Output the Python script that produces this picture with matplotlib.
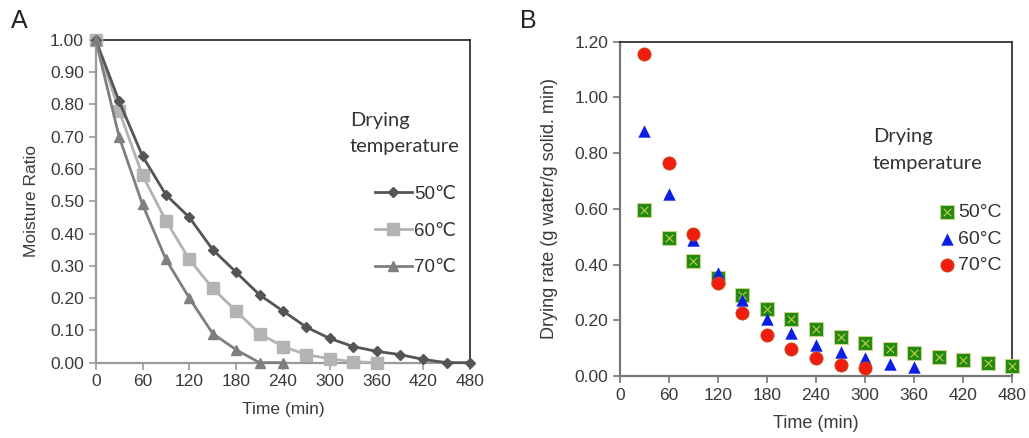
import numpy as np
import matplotlib
matplotlib.use("Agg")
import matplotlib.pyplot as plt
from matplotlib.legend_handler import HandlerTuple

plt.rcParams['font.family'] = ['Liberation Sans', 'DejaVu Sans']

# Panel A: moisture ratio vs time
time_a = [0, 30, 60, 90, 120, 150, 180, 210, 240, 270, 300, 330, 360, 390, 420, 450, 480]
mr_50 = [1.00, 0.81, 0.64, 0.52, 0.45, 0.35, 0.28, 0.21, 0.16, 0.11, 0.075, 0.05, 0.035, 0.025, 0.01, 0.00, 0.00]
mr_60 = [1.00, 0.78, 0.58, 0.44, 0.32, 0.23, 0.16, 0.09, 0.05, 0.025, 0.012, 0.003, 0.00]
mr_70 = [1.00, 0.70, 0.49, 0.32, 0.20, 0.09, 0.04, 0.00, 0.00]

# Panel B: drying rate vs time
time_b = [30, 60, 90, 120, 150, 180, 210, 240, 270, 300, 330, 360, 390, 420, 450, 480]
dr_50 = [0.595, 0.496, 0.412, 0.352, 0.29, 0.241, 0.203, 0.167, 0.141, 0.12, 0.097, 0.084, 0.067, 0.057, 0.048, 0.037]
dr_60 = [0.879, 0.655, 0.487, 0.368, 0.272, 0.203, 0.153, 0.113, 0.085, 0.063, 0.043, 0.033]
dr_70 = [1.157, 0.766, 0.509, 0.335, 0.225, 0.147, 0.098, 0.066, 0.041, 0.027]

xticks = np.arange(0, 481, 60)

fig = plt.figure(figsize=(10.29, 4.38), dpi=100)
ax1 = fig.add_axes([0.093, 0.172, 0.364, 0.737])
ax2 = fig.add_axes([0.6025, 0.1416, 0.381, 0.7632])

tick_col = '#3a3a3a'
spine_gray = '#9a9a9a'

# ---- panel A
l50, = ax1.plot(time_a, mr_50, color='#555555', lw=2.0, marker='D', ms=5.5, label='50\u2103', clip_on=False, zorder=4)
l60, = ax1.plot(time_a[:len(mr_60)], mr_60, color='#b3b3b3', lw=2.0, marker='s', ms=8, label='60\u2103', clip_on=False, zorder=3)
l70, = ax1.plot(time_a[:len(mr_70)], mr_70, color='#7f7f7f', lw=2.0, marker='^', ms=7.5, label='70\u2103', clip_on=False, zorder=5)

ax1.set_xlim(0, 480)
ax1.set_ylim(0, 1.0)
ax1.set_xticks(xticks)
ax1.set_yticks(np.arange(0, 1.01, 0.1))
ax1.set_yticklabels([f'{v:.2f}' for v in np.arange(0, 1.01, 0.1)])
ax1.tick_params(direction='out', length=5, width=1.2, color=spine_gray, labelsize=12.5, labelcolor=tick_col)
for s in ['left', 'bottom']:
    ax1.spines[s].set_color(spine_gray)
    ax1.spines[s].set_linewidth(1.6)
for s in ['top', 'right']:
    ax1.spines[s].set_color('#222222')
    ax1.spines[s].set_linewidth(1.2)
ax1.set_xlabel('Time (min)', fontsize=12.5, color=tick_col, labelpad=9)
ax1.set_ylabel('Moisture Ratio', fontsize=12.5, color=tick_col, labelpad=8)

ax1.text(0.679, 0.71, 'Drying\ntemperature', transform=ax1.transAxes, fontsize=14.5,
         family=['Lato', 'DejaVu Sans'], color='#333333', va='center', ha='left', linespacing=1.7)
ax1.legend(handles=[l50, l60, l70], loc='center left', bbox_to_anchor=(0.745, 0.408),
           frameon=False, handlelength=2.0, handletextpad=0.1,
           labelspacing=1.05, borderpad=0, borderaxespad=0, labelcolor='#333333',
           prop={'family': ['Liberation Sans', 'DejaVu Sans'], 'size': 13.5})

# ---- panel B
sq_green = ax2.scatter(time_b, dr_50, marker='s', s=90, color='#1f8a10', edgecolors='#c9d38a', linewidths=0.8, zorder=3, clip_on=False)
sq_x = ax2.scatter(time_b, dr_50, marker='x', s=30, color='#c8cc44', linewidths=0.8, zorder=3.1, clip_on=False)
tri = ax2.scatter(time_b[:len(dr_60)], dr_60, marker='^', s=80, color='#0a1fe6', linewidths=0, zorder=4, clip_on=False)
circ = ax2.scatter(time_b[:len(dr_70)], dr_70, marker='o', s=90, color='#f21d0f', edgecolors='#c0501a', linewidths=0.6, zorder=5, clip_on=False)

ax2.set_xlim(0, 480)
ax2.set_ylim(0, 1.2)
ax2.set_xticks(xticks)
ax2.set_yticks(np.arange(0, 1.21, 0.2))
ax2.set_yticklabels([f'{v:.2f}' for v in np.arange(0, 1.21, 0.2)])
ax2.tick_params(direction='out', length=5, width=1.2, color='#777777', labelsize=12.5, labelcolor=tick_col)
for s in ['left', 'bottom']:
    ax2.spines[s].set_color('#777777')
    ax2.spines[s].set_linewidth(1.6)
for s in ['top', 'right']:
    ax2.spines[s].set_color('#222222')
    ax2.spines[s].set_linewidth(1.2)
ax2.set_xlabel('Time (min)', fontsize=13, color=tick_col, labelpad=9)
ax2.set_ylabel('Drying rate (g water/g solid. min)', fontsize=13, color=tick_col, labelpad=12)

ax2.text(0.645, 0.675, 'Drying\ntemperature', transform=ax2.transAxes, fontsize=14.5,
         family=['Lato', 'DejaVu Sans'], color='#333333', va='center', ha='left', linespacing=1.7)
ax2.legend(handles=[(sq_green, sq_x), tri, circ], labels=['50°C', '60°C', '70°C'],
           handler_map={tuple: HandlerTuple(ndivide=1)},
           loc='center left', bbox_to_anchor=(0.815, 0.41), frameon=False,
           handlelength=0.8, handletextpad=0.15, labelspacing=0.45, borderpad=0,
           borderaxespad=0, labelcolor='#333333', scatterpoints=1,
           prop={'family': ['Liberation Sans', 'DejaVu Sans'], 'size': 14})

fig.text(0.019, 0.952, 'A', fontsize=18, ha='center', va='center', color='#222222')
fig.text(0.513, 0.952, 'B', fontsize=18, ha='center', va='center', color='#222222')

fig.savefig('out.png', dpi=100)
